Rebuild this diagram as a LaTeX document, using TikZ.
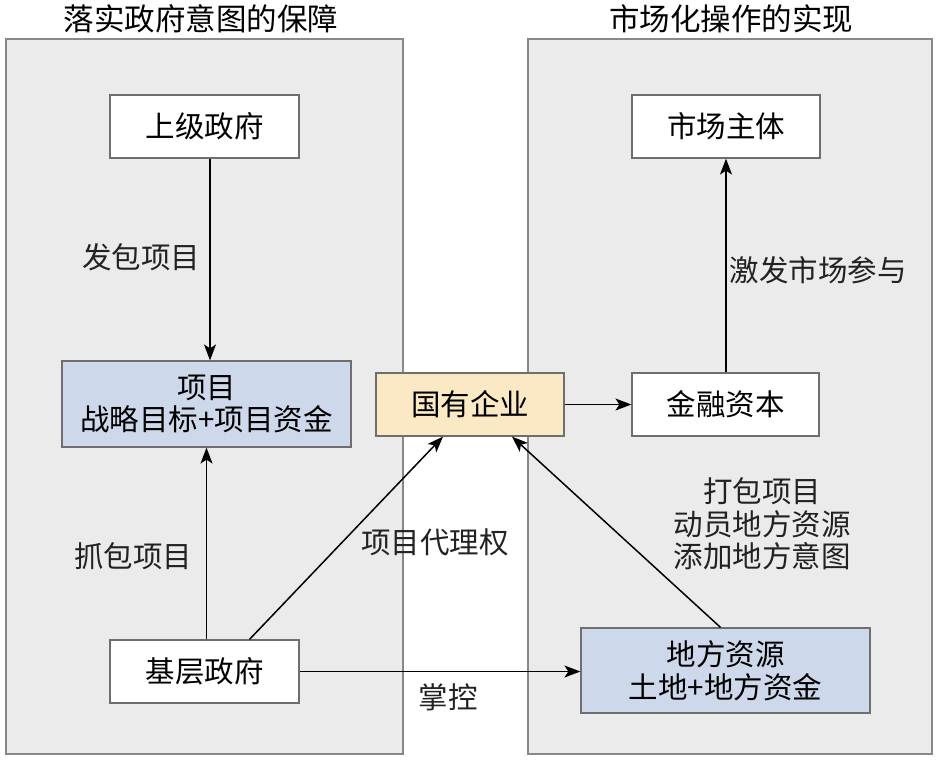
\documentclass[tikz,border=0pt]{standalone}
\usepackage{fontspec}
\setmainfont{Noto Sans CJK SC}
\usetikzlibrary{arrows.meta}
\definecolor{grpfill}{HTML}{EBEBEB}
\definecolor{grpdraw}{HTML}{888888}
\definecolor{boxdraw}{HTML}{6E6E6E}
\definecolor{bluefill}{HTML}{CDD9EB}
\definecolor{yelfill}{HTML}{FBE8C4}
\definecolor{labtxt}{HTML}{222222}
\tikzset{
  grp/.style={draw=grpdraw, fill=grpfill, line width=1.2pt, inner sep=0pt},
  box/.style={draw=boxdraw, fill=white, line width=1.2pt, inner sep=0pt, align=center,
    font=\fontsize{29.5}{32.5}\selectfont},
  bluebox/.style={box, fill=bluefill},
  yelbox/.style={box, fill=yelfill},
  lab/.style={text=labtxt, align=center, inner sep=0pt, font=\fontsize{29.5}{32.5}\selectfont},
  ttl/.style={text=black, inner sep=0pt, font=\fontsize{30.5}{33}\selectfont},
  arr/.style={line width=1.5pt, -{Stealth[length=16pt, width=12pt, inset=4pt]}}
}
\begin{document}
\begin{tikzpicture}[x=1pt, y=-1pt]
\useasboundingbox (0,0) rectangle (940,762);
% groups
\node[grp, minimum width=397pt, minimum height=715pt] (gl) at (204.5,396.5) {};
\node[grp, minimum width=404pt, minimum height=715pt] (gr) at (730,396.5) {};
\node[ttl] (tl) at (201,19) {落实政府意图的保障};
\node[ttl] (tr) at (731,19) {市场化操作的实现};
% boxes
\node[box, minimum width=189pt, minimum height=63pt] (up) at (204.5,126.5) {上级政府};
\node[box, minimum width=188pt, minimum height=63pt] (mkt) at (726,126.5) {市场主体};
\node[bluebox, minimum width=289pt, minimum height=86pt] (proj) at (206.5,404) {项目\\战略目标+项目资金};
\node[yelbox, minimum width=188pt, minimum height=63pt] (soe) at (470,404.5) {国有企业};
\node[box, minimum width=187pt, minimum height=63pt] (fin) at (725.5,404.5) {金融资本};
\node[box, minimum width=189pt, minimum height=63pt] (base) at (204.5,671.5) {基层政府};
\node[bluebox, minimum width=289pt, minimum height=85pt] (res) at (725.5,670.5) {地方资源\\土地+地方资金};
% arrows
\draw[arr] ([xshift=5.5pt]up.south) -- ([xshift=5.5pt]up.south |- proj.north);
\draw[arr] (base.north -| proj.south) -- (proj.south);
\draw[arr] ([xshift=45pt]base.north) -- ([xshift=-27pt]soe.south);
\draw[arr] ([xshift=-5pt]res.north) -- ([xshift=42pt]soe.south);
\draw[arr] (soe.east) -- (fin.west);
\draw[arr] (fin.north -| mkt.south) -- (mkt.south);
\draw[arr] (base.east) -- (base.east -| res.west);
% labels
\node[lab] (l1) at (141,257) {发包项目};
\node[lab] (l2) at (133,556) {抓包项目};
\node[lab] (l3) at (435,542) {项目代理权};
\node[lab] (l4) at (762,524) {打包项目\\动员地方资源\\添加地方意图};
\node[lab] (l5) at (818,270) {激发市场参与};
\node[lab] (l6) at (448,697) {掌控};
\end{tikzpicture}
\end{document}
